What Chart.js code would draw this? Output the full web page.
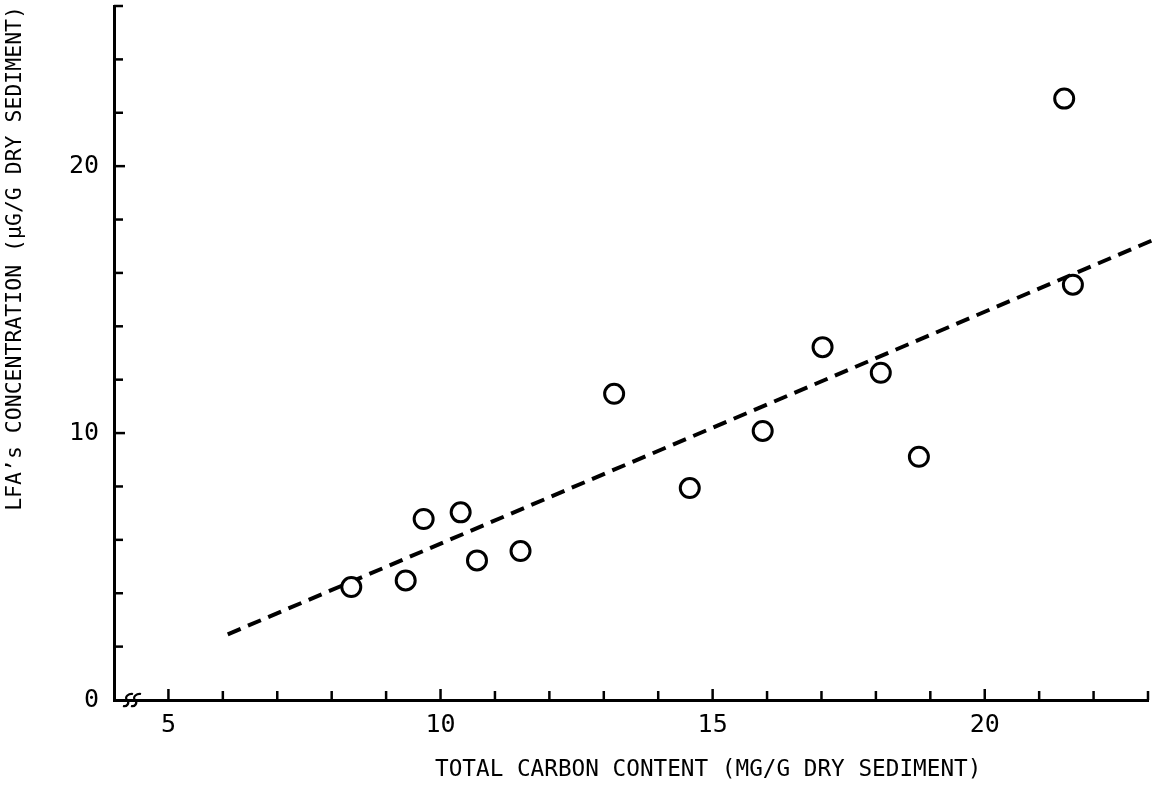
<!DOCTYPE html>
<html>
<head>
<meta charset="utf-8">
<script src="https://cdn.jsdelivr.net/npm/chart.js@4.4.0/dist/chart.umd.min.js"></script>
<style>
html,body{margin:0;padding:0;background:#fff;}
#wrap{position:relative;width:1158px;height:787px;}
#xtitle{position:absolute;left:435px;top:756px;font:22.7px "DejaVu Sans Mono";color:#000;white-space:nowrap;line-height:24px;}
</style>
</head>
<body>
<div id="wrap">
  <canvas id="c" width="1158" height="787"></canvas>
  <div id="xtitle">TOTAL CARBON CONTENT (MG/G DRY SEDIMENT)</div>
</div>
<script>
// values
const carbon = [8.36, 9.36, 9.69, 10.37, 10.67, 11.47, 13.19, 14.58, 15.92, 17.02, 18.09, 18.79, 21.46, 21.62];
const lfa    = [4.23, 4.48, 6.78, 7.03, 5.23, 5.58, 11.47, 7.94, 10.08, 13.22, 12.26, 9.11, 22.53, 15.56];
const fitX = [6.09, 23.17];
const fitY = [2.46, 17.30];
const xLabels = [5, 10, 15, 20];
const yLabels = [0, 10, 20];

const FONT = 'DejaVu Sans Mono';

// inward tick marks + axis break
const inwardTicks = {
  id: 'inwardTicks',
  afterDraw(chart){
    const {ctx, chartArea: a, scales: {x, y}} = chart;
    ctx.save();
    ctx.strokeStyle = '#000';
    ctx.lineWidth = 2.5;
    x.ticks.forEach(t => {
      if(t.value < 5) return;
      const px = x.getPixelForValue(t.value);
      const len = t.value % 5 === 0 ? 11 : 9;
      ctx.beginPath(); ctx.moveTo(px, a.bottom); ctx.lineTo(px, a.bottom - len); ctx.stroke();
    });
    y.ticks.forEach(t => {
      if(t.value <= 0) return;
      const py = y.getPixelForValue(t.value);
      const len = t.value % 10 === 0 ? 11 : 9;
      ctx.beginPath(); ctx.moveTo(a.left, py); ctx.lineTo(a.left + len, py); ctx.stroke();
    });
    // break mark on x axis
    ctx.lineWidth = 2.2;
    [a.left + 14, a.left + 22].forEach(cx => {
      const by = a.bottom;
      ctx.beginPath();
      ctx.moveTo(cx - 5, by + 6);
      ctx.bezierCurveTo(cx - 1, by + 7, cx + 2, by + 3, cx - 1, by);
      ctx.bezierCurveTo(cx - 4, by - 3, cx + 1, by - 7, cx + 5, by - 6);
      ctx.stroke();
    });
    ctx.restore();
  }
};

new Chart(document.getElementById('c'), {
  type: 'scatter',
  data: {
    datasets: [
      {
        data: carbon.map((v, i) => ({x: v, y: lfa[i]})),
        pointStyle: 'circle',
        pointRadius: 9.5,
        pointHoverRadius: 9.5,
        pointBorderWidth: 3,
        pointBackgroundColor: '#fff',
        pointBorderColor: '#000'
      },
      {
        type: 'line',
        data: fitX.map((v, i) => ({x: v, y: fitY[i]})),
        showLine: true,
        borderColor: '#000',
        borderWidth: 4,
        borderDash: [14, 8],
        pointRadius: 0,
        fill: false,
        clip: false
      }
    ]
  },
  options: {
    responsive: false,
    animation: false,
    devicePixelRatio: 1,
    layout: {autoPadding: false, padding: {top: 6, right: 10, left: 0, bottom: 0}},
    plugins: {legend: {display: false}, tooltip: {enabled: false}},
    scales: {
      x: {
        type: 'linear', min: 4, max: 23,
        grid: {display: false, drawTicks: false},
        border: {display: true, color: '#000', width: 3},
        ticks: {
          stepSize: 1, autoSkip: false, maxRotation: 0, padding: 10,
          color: '#000', font: {family: FONT, size: 25},
          callback: v => xLabels.includes(v) ? String(v) : ''
        },
        afterFit(s){ s.height = 87; s.paddingLeft = 0; s.paddingRight = 0; }
      },
      y: {
        type: 'linear', min: 0, max: 26,
        grid: {display: false, drawTicks: false},
        border: {display: true, color: '#000', width: 3},
        ticks: {
          stepSize: 2, autoSkip: false, padding: 15,
          color: '#000', font: {family: FONT, size: 25},
          callback: v => yLabels.includes(v) ? String(v) : ''
        },
        title: {
          display: true, align: 'end', color: '#000',
          text: 'LFA\u2019s CONCENTRATION (\u03bcG/G DRY SEDIMENT)',
          font: {family: FONT, size: 21.5}, padding: {top: 3, bottom: 0}
        },
        afterFit(s){ s.width = 114; s.paddingTop = 0; s.paddingBottom = 0; }
      }
    }
  },
  plugins: [inwardTicks]
});
</script>
</body>
</html>
